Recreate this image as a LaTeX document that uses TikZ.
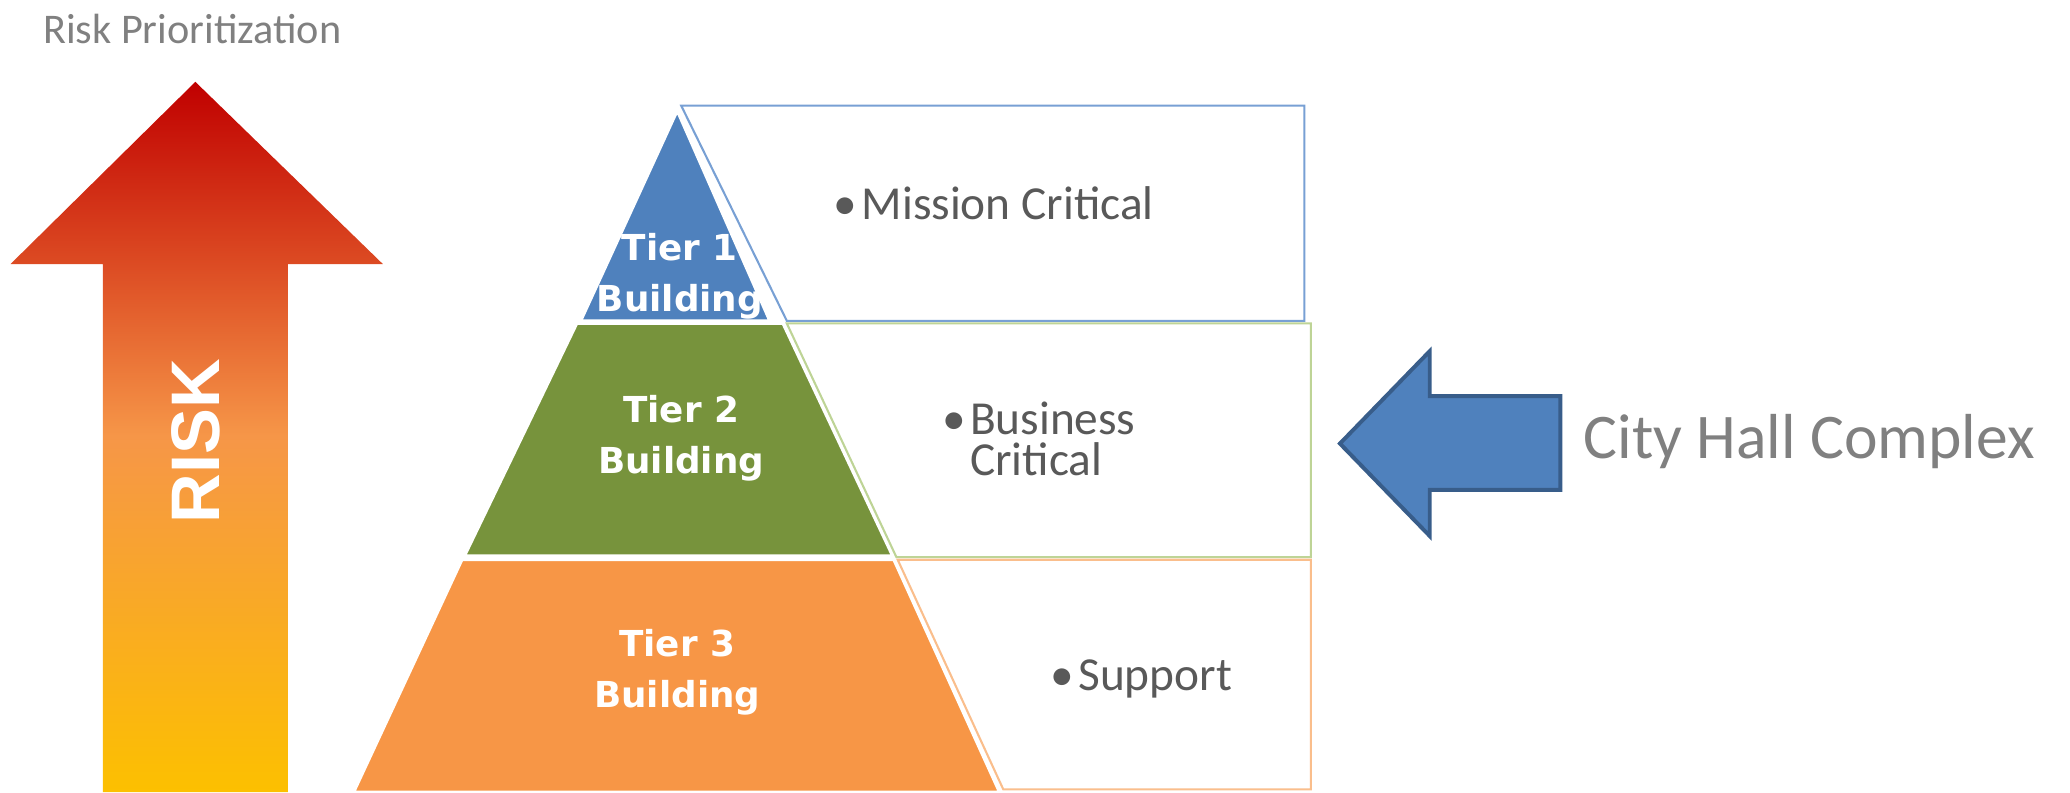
\documentclass[tikz,border=0pt]{standalone}
\usepackage{fontspec}
\setmainfont{Carlito}
\newfontfamily\tierfont{DejaVu Sans}
\newfontfamily\riskfont{Liberation Sans}
\definecolor{tieronecolor}{RGB}{79,129,189}
\definecolor{tiertwocolor}{RGB}{119,147,60}
\definecolor{tierthreecolor}{RGB}{247,150,70}
\definecolor{boxonecolor}{RGB}{120,160,212}
\definecolor{boxtwocolor}{RGB}{190,212,150}
\definecolor{boxthreecolor}{RGB}{250,190,140}
\definecolor{risktop}{RGB}{192,0,0}
\definecolor{riskupper}{RGB}{220,75,35}
\definecolor{riskmid}{RGB}{246,150,72}
\definecolor{risklower}{RGB}{249,168,40}
\definecolor{riskbottom}{RGB}{252,192,0}
\definecolor{bullettextcolor}{RGB}{89,89,89}
\definecolor{captioncolor}{RGB}{128,128,128}
\definecolor{hallborder}{RGB}{56,93,138}
\pgfdeclareverticalshading{riskshading}{100bp}{
	color(0bp)=(riskbottom); color(25bp)=(riskbottom);
	color(38.9bp)=(risklower); color(50.1bp)=(riskmid);
	color(62.2bp)=(riskupper); color(75bp)=(risktop); color(100bp)=(risktop)}
\tikzset{
	tier/.style={
		draw=white,
		line width=0.6pt,
		line join=miter
	},
	tierbox/.style={
		line width=0.45pt,
		fill=white
	},
	tierlabel/.style={
		text=white,
		font=\tierfont\bfseries\fontsize{7.7}{11.1}\selectfont,
		align=center,
		anchor=base,
		inner sep=0pt
	},
	bullettext/.style={
		text=bullettextcolor,
		font=\fontsize{10.2}{8.8}\selectfont,
		align=left,
		anchor=base west,
		inner sep=0pt
	},
	caption/.style={
		text=captioncolor,
		anchor=base west,
		inner sep=0pt
	},
	hallarrow/.style={
		fill=tieronecolor,
		draw=hallborder,
		line width=0.85pt,
		line join=miter
	},
}
\newcommand{\bulletitem}{\makebox[6pt][l]{\textbullet}}

\begin{document}
\begin{tikzpicture}[x=0.01cm,y=-0.01cm]
	\useasboundingbox (0,0) rectangle (1568,600);
	% risk arrow
	\shade[shading=riskshading]
		(148,62) -- (290,200) -- (218,200) -- (218,600) -- (78,600) -- (78,200) -- (8,200) -- cycle;
	\node[rotate=90,text=white,inner sep=0pt,font=\riskfont\bfseries\fontsize{14.8}{16}\selectfont] (risk) at (148,334) {RISK};
	\node[caption,font=\fontsize{9.1}{11}\selectfont] (prio) at (32,33) {Risk Prioritization};
	% pyramid
	\fill[tier,fill=tieronecolor] (513,84) -- (583,243) -- (440,243) -- cycle;
	\fill[tier,fill=tiertwocolor] (437,245) -- (593,245) -- (676,421) -- (352,421) -- cycle;
	\fill[tier,fill=tierthreecolor] (350,424) -- (677,424) -- (757,600) -- (268,600) -- cycle;
	\draw[tierbox,draw=boxonecolor] (516,80) -- (988,80) -- (988,243) -- (596,243) -- cycle;
	\draw[tierbox,draw=boxtwocolor] (596,245) -- (993,245) -- (993,422) -- (679,422) -- cycle;
	\draw[tierbox,draw=boxthreecolor] (680,424) -- (993,424) -- (993,598) -- (760,598) -- cycle;
	% base anchor sits on the last line
	\node[tierlabel] (tier1) at (515,236) {Tier 1\\Building};
	\node[tierlabel] (tier2) at (516,359) {Tier 2\\Building};
	\node[tierlabel] (tier3) at (513,536) {Tier 3\\Building};
	\node[bullettext] (mission) at (631,166) {\bulletitem Mission Critical};
	\node[bullettext] (business) at (713,360) {\bulletitem Business\\\hspace{6pt}Critical};
	\node[bullettext] (support) at (795,523) {\bulletitem Support};
	% city hall
	\draw[hallarrow] (1015,336) -- (1083,266) -- (1083,300) -- (1182,300) -- (1182,371) -- (1083,371) -- (1083,406) -- cycle;
	\node[caption,font=\fontsize{13.7}{16}\selectfont] (hall) at (1199,347) {City Hall Complex};
\end{tikzpicture}
\end{document}
